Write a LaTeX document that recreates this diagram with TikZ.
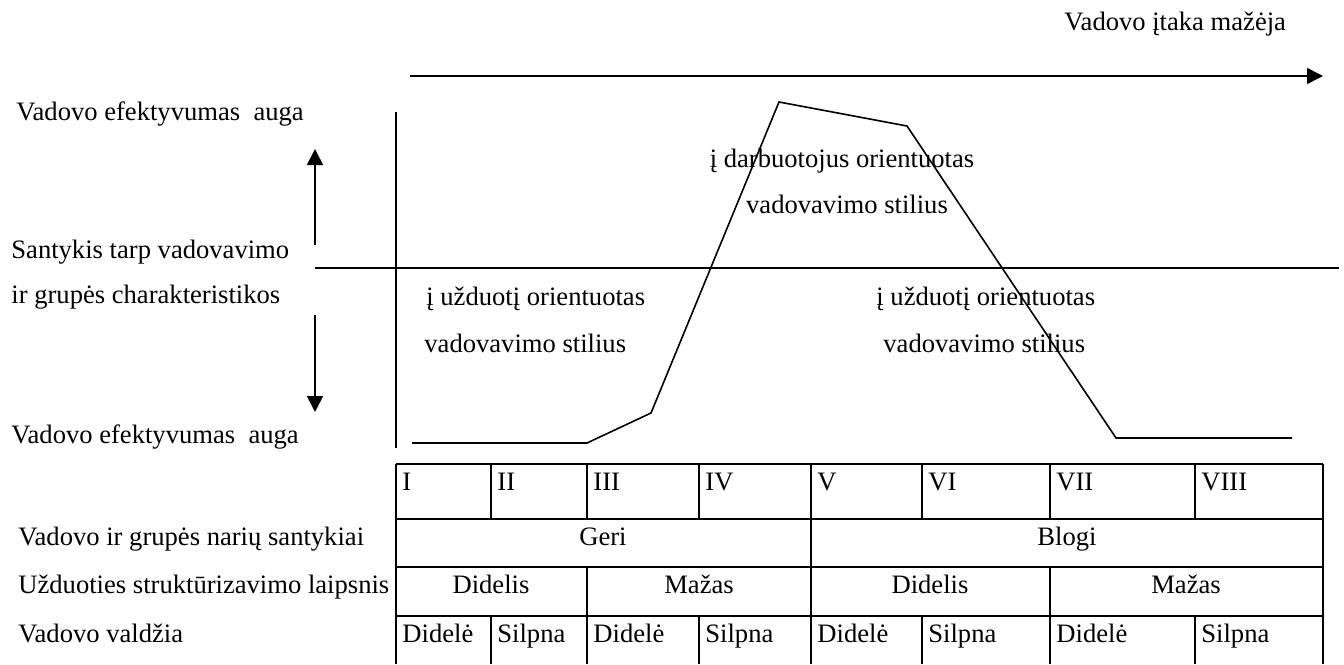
\documentclass[tikz,border=0pt]{standalone}
\usepackage{fontspec}
\setmainfont{Liberation Serif}
\usetikzlibrary{arrows.meta}

\tikzset{
  txt/.style={inner sep=0pt, anchor=base west, font=\fontsize{13.3pt}{16pt}\selectfont},
  ctxt/.style={txt, anchor=base},
  ln/.style={line width=0.8pt},
  arr/.style={ln, -{Triangle[length=8pt,width=8pt]}}
}

\begin{document}
\begin{tikzpicture}[x=0.5pt, y=-0.5pt]
    \useasboundingbox (0,0) rectangle (1344,664);

    % Axes and arrows
    \coordinate (topL) at (410,76);
    \coordinate (topR) at (1323,76);
    \coordinate (axT) at (396,112);
    \coordinate (axB) at (396,448);
    \coordinate (midL) at (315,268);
    \coordinate (midR) at (1339,268);
    \coordinate (upB) at (315,245);
    \coordinate (upT) at (315,149);
    \coordinate (dnT) at (315,315);
    \coordinate (dnB) at (315,412);

    \draw[arr] (topL) -- (topR);
    \draw[ln] (axT) -- (axB);
    \draw[ln] (midL) -- (midR);
    \draw[arr] (upB) -- (upT);
    \draw[arr] (dnT) -- (dnB);

    % Draw curve
    \coordinate (p1) at (412,443);
    \coordinate (p2) at (587,443);
    \coordinate (p3) at (651,413);
    \coordinate (p4) at (779,102);
    \coordinate (p5) at (907,126);
    \coordinate (p6) at (1116,438);
    \coordinate (p7) at (1292,438);
    \draw[ln] (p1) -- (p2) -- (p3) -- (p4) -- (p5) -- (p6) -- (p7);

    % Labels
    \node[txt] (itaka) at (1064,30) {Vadovo įtaka mažėja};
    \node[txt] (efT) at (16,120) {Vadovo efektyvumas\ \ auga};
    \node[txt] (sant) at (11,258) {Santykis tarp vadovavimo};
    \node[txt] (char) at (11,303) {ir grupės charakteristikos};
    \node[txt] (efB) at (11,443) {Vadovo efektyvumas\ \ auga};

    \node[ctxt] (darb1) at (842,167) {į darbuotojus orientuotas};
    \node[ctxt] (darb2) at (847,213) {vadovavimo stilius};
    \node[txt] (uzdL1) at (426,305) {į užduotį orientuotas};
    \node[txt] (uzdL2) at (424,352) {vadovavimo stilius};
    \node[txt] (uzdR1) at (876,305) {į užduotį orientuotas};
    \node[txt] (uzdR2) at (883,352) {vadovavimo stilius};

    % Table lines
    \draw[ln] (396,464) -- (1323,464);
    \draw[ln] (396,519) -- (1323,519);
    \draw[ln] (396,567) -- (1323,567);
    \draw[ln] (396,616) -- (1323,616);
    \draw[ln] (396,464) -- (396,664);
    \draw[ln] (1323,464) -- (1323,664);
    \draw[ln] (811,464) -- (811,664);
    \draw[ln] (587,464) -- (587,519);
    \draw[ln] (587,567) -- (587,664);
    \draw[ln] (1050,464) -- (1050,519);
    \draw[ln] (1050,567) -- (1050,664);
    \draw[ln] (491,464) -- (491,519);
    \draw[ln] (491,616) -- (491,664);
    \draw[ln] (699,464) -- (699,519);
    \draw[ln] (699,616) -- (699,664);
    \draw[ln] (922,464) -- (922,519);
    \draw[ln] (922,616) -- (922,664);
    \draw[ln] (1195,464) -- (1195,519);
    \draw[ln] (1195,616) -- (1195,664);

    % Table text
    \node[txt] (r1) at (402,490) {I};
    \node[txt] (r2) at (497,490) {II};
    \node[txt] (r3) at (593,490) {III};
    \node[txt] (r4) at (705,490) {IV};
    \node[txt] (r5) at (817,490) {V};
    \node[txt] (r6) at (928,490) {VI};
    \node[txt] (r7) at (1056,490) {VII};
    \node[txt] (r8) at (1201,490) {VIII};

    \node[txt] (santyk) at (18,545) {Vadovo ir grupės narių santykiai};
    \node[ctxt] (geri) at (603,545) {Geri};
    \node[ctxt] (blogi) at (1067,545) {Blogi};

    \node[txt] (struk) at (18,593) {Užduoties struktūrizavimo laipsnis};
    \node[ctxt] (did1) at (491,593) {Didelis};
    \node[ctxt] (maz1) at (699,593) {Mažas};
    \node[ctxt] (did2) at (930,593) {Didelis};
    \node[ctxt] (maz2) at (1186,593) {Mažas};

    \node[txt] (valdz) at (18,642) {Vadovo valdžia};
    \node[txt] (v1) at (402,642) {Didelė};
    \node[txt] (v2) at (497,642) {Silpna};
    \node[txt] (v3) at (593,642) {Didelė};
    \node[txt] (v4) at (705,642) {Silpna};
    \node[txt] (v5) at (817,642) {Didelė};
    \node[txt] (v6) at (928,642) {Silpna};
    \node[txt] (v7) at (1056,642) {Didelė};
    \node[txt] (v8) at (1201,642) {Silpna};
\end{tikzpicture}
\end{document}
